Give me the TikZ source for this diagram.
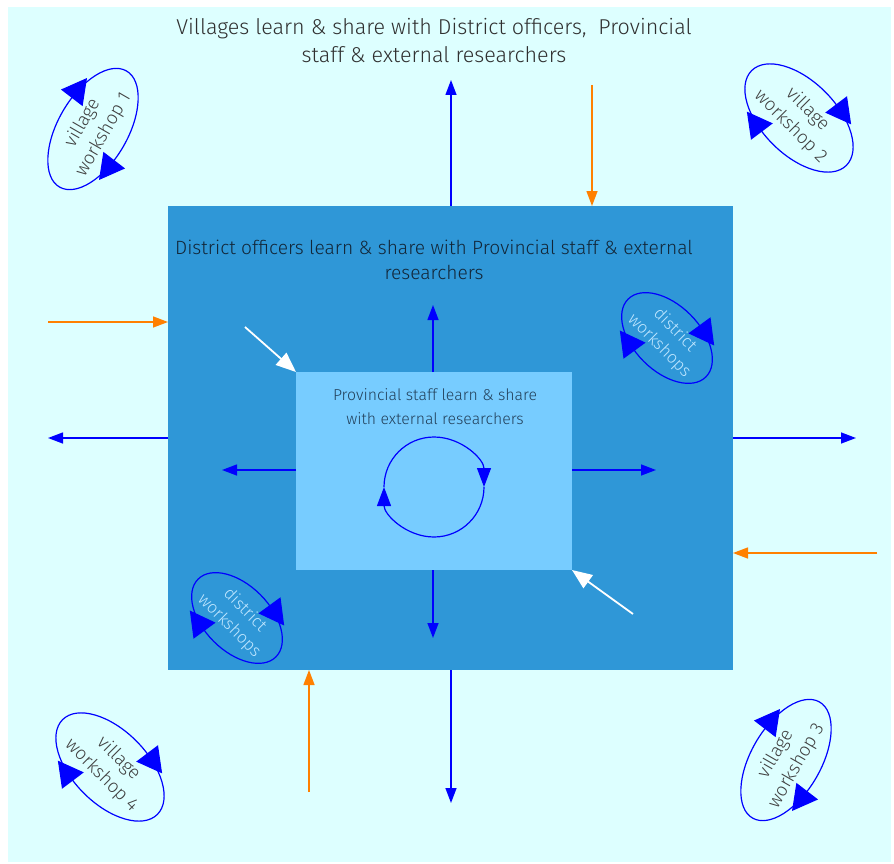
\documentclass[tikz,border=0pt]{standalone}
\usepackage{fontspec}
\setmainfont{Fira Sans Light}
\usetikzlibrary{arrows.meta,shapes.geometric,decorations.markings,calc}
\definecolor{bgcyan}{HTML}{DDFFFF}
\definecolor{distblue}{HTML}{2F97D7}
\definecolor{provblue}{HTML}{77CCFF}
\definecolor{arrblue}{HTML}{0000FF}
\definecolor{arrorange}{HTML}{FF8000}
\definecolor{txtdark}{HTML}{303030}
\definecolor{txtnavy}{HTML}{122638}
\definecolor{txtslate}{HTML}{22405A}
\definecolor{txtgrey}{HTML}{404040}
\definecolor{txtpale}{HTML}{BFE6FF}
\begin{document}
\begin{tikzpicture}[x=1pt,y=1pt,
  barrow/.style={draw=arrblue, line width=1.4pt, -{Triangle[length=15pt,width=11pt]}},
  oarrow/.style={draw=arrorange, line width=1.4pt, -{Triangle[length=15pt,width=11pt]}},
  warrow/.style={draw=white, line width=1.8pt, -{Triangle[length=20pt,width=16pt]}},
  carrow/.style={draw=arrblue, line width=1.2pt, -{Triangle[length=19pt,width=14pt]}},
  box/.style={inner sep=0pt, outer sep=0pt, anchor=north west},
  wshop/.style={ellipse, draw=arrblue, line width=1.2pt, inner sep=0pt, outer sep=0pt,
    postaction={decorate}, decoration={markings,
      mark=at position 0.2 with {\arrow{Triangle[reversed,length=25pt,width=27pt]}},
      mark=at position 0.7 with {\arrow{Triangle[reversed,length=25pt,width=27pt]}}}},
  vtext/.style={align=center, text=txtgrey, font=\fontsize{18.5}{24}\selectfont, inner sep=0pt},
  dtext/.style={align=center, text=txtpale, font=\fontsize{17}{22}\selectfont, inner sep=0pt},
  ]
\useasboundingbox (0,0) rectangle (894,-864);
% backgrounds
\node[box, fill=bgcyan, minimum width=883pt, minimum height=855pt] (bg) at (8,-7) {};
\node[box, fill=distblue, minimum width=565pt, minimum height=464pt] (dist) at (168,-206) {};
\node[box, fill=provblue, minimum width=276pt, minimum height=198pt] (prov) at (296,-372) {};
% texts
\node[align=center, text=txtdark, font=\fontsize{21.5}{28}\selectfont] (title) at (434,-41)
  {Villages learn \& share with District officers,~ Provincial\\staff \& external researchers};
\node[align=center, text=txtnavy, font=\fontsize{19.2}{25}\selectfont] (disttxt) at (434,-260)
  {District officers learn \& share with Provincial staff \& external\\researchers};
\node[align=center, text=txtslate, font=\fontsize{15.8}{24}\selectfont] (provtxt) at (435,-407)
  {Provincial staff learn \& share\\with external researchers};
% free ends
\coordinate (tN) at (451,-80);
\coordinate (tS) at (451,-803);
\coordinate (tW) at (48,-438);
\coordinate (tE) at (856,-438);
\coordinate (iN) at (433,-305);
\coordinate (iS) at (433,-638);
\coordinate (iW) at (222,-470);
\coordinate (iE) at (656,-470);
\coordinate (oN) at (592,-85);
\coordinate (oW) at (48,-322);
\coordinate (oE) at (877,-553);
\coordinate (oS) at (309,-792);
\coordinate (wA) at (245,-327);
\coordinate (wB) at (633,-614);
% blue arrows outward
\draw[barrow] (tN |- dist.north) -- (tN);
\draw[barrow] (tS |- dist.south) -- (tS);
\draw[barrow] (tW -| dist.west) -- (tW);
\draw[barrow] (tE -| dist.east) -- (tE);
\draw[barrow] (iN |- prov.north) -- (iN);
\draw[barrow] (iS |- prov.south) -- (iS);
\draw[barrow] (iW -| prov.west) -- (iW);
\draw[barrow] (iE -| prov.east) -- (iE);
% orange arrows inward
\draw[oarrow] (oN) -- (oN |- dist.north);
\draw[oarrow] (oW) -- (oW -| dist.west);
\draw[oarrow] (oE) -- (oE -| dist.east);
\draw[oarrow] (oS) -- (oS |- dist.south);
% white arrows
\draw[warrow] (wA) -- (prov.north west);
\draw[warrow] (wB) -- (prov.south east);
% cycle in the centre
\coordinate (cc) at (434,-487);
\draw[carrow] ([shift={(180:50)}]cc) arc[start angle=180, end angle=0, radius=50];
\draw[carrow] ([shift={(0:50)}]cc) arc[start angle=0, end angle=-180, radius=50];
% village workshops
\node[wshop, rotate=60, minimum width=134pt, minimum height=70pt] (vw1) at (93,-129) {};
\node[vtext, rotate=60] (vw1t) at (vw1.center) {village\\workshop 1};
\node[wshop, rotate=-45, minimum width=134pt, minimum height=74pt] (vw2) at (799,-118) {};
\node[vtext, rotate=-45] (vw2t) at (vw2.center) {village\\workshop 2};
\node[wshop, rotate=60, minimum width=134pt, minimum height=70pt] (vw3) at (786,-760) {};
\node[vtext, rotate=60] (vw3t) at (vw3.center) {village\\workshop 3};
\node[wshop, rotate=-45, minimum width=134pt, minimum height=74pt] (vw4) at (110,-767) {};
\node[vtext, rotate=-45] (vw4t) at (vw4.center) {village\\workshop 4};
% district workshops
\node[wshop, rotate=-45, minimum width=110pt, minimum height=66pt] (dw1) at (667,-338) {};
\node[dtext, rotate=-45] (dw1t) at (dw1.center) {district\\workshops};
\node[wshop, rotate=-45, minimum width=110pt, minimum height=66pt] (dw2) at (237,-618) {};
\node[dtext, rotate=-45] (dw2t) at (dw2.center) {district\\workshops};
\end{tikzpicture}
\end{document}
